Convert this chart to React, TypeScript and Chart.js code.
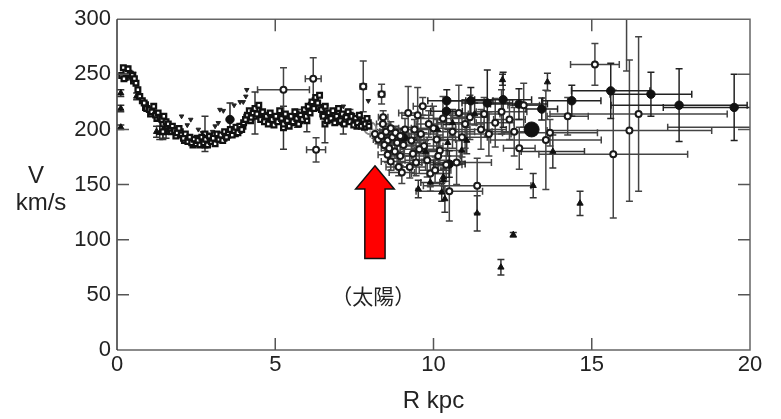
import { useEffect, useRef } from "react";
import { Chart, registerables } from "chart.js";
Chart.register(...registerables);

// ---- axis ticks ----
const xTickValues = [0, 5, 10, 15, 20];
const yTickValues = [0, 50, 100, 150, 200, 250, 300];

// ---- inner rotation curve (open squares) ----
const squaresR = [0.15,0.2,0.22,0.28,0.35,0.42,0.48,0.55,0.6,0.66,0.72,0.8,0.86,0.94,1.02,1.1,1.16,1.22,1.3,1.36,1.42,1.48,1.55,1.62,1.68,1.75,1.82,1.9,1.96,2.03,2.1,2.16,2.24,2.3,2.36,2.44,2.5,2.56,2.62,2.68,2.74,2.8,2.86,2.92,2.98,3.04,3.1,3.16,3.22,3.28,3.34,3.4,3.46,3.52,3.58,3.64,3.7,3.76,3.82,3.88,3.94,4.0,4.06,4.12,4.18,4.24,4.3,4.36,4.42,4.48,4.54,4.6,4.66,4.72,4.78,4.84,4.9,4.96,5.02,5.08,5.14,5.2,5.26,5.32,5.38,5.44,5.5,5.56,5.62,5.68,5.74,5.8,5.86,5.92,5.98,6.04,6.1,6.16,6.22,6.28,6.34,6.4,6.46,6.52,6.58,6.64,6.7,6.76,6.82,6.88,6.94,7.0,7.06,7.12,7.18,7.24,7.3,7.36,7.42,7.48,7.54,7.6,7.66,7.72,7.78,7.84,7.9,7.96];
const squaresV = [249,256,246,252,255,250,249,246,242,236,230,226,224,219,218,216,221,213,215,211,209,212,207,205,201,203,199,197,201,195,192,196,189,193,188,191,187,190,186,193,188,191,186,194,189,192,187,196,191,195,190,198,193,197,200,195,199,202,197,203,200,206,209,213,217,211,215,219,214,222,209,216,207,212,205,215,209,204,212,207,217,210,205,214,208,203,212,207,216,210,205,213,209,218,212,221,215,225,219,229,224,231,218,212,221,208,215,210,217,206,212,219,208,214,205,211,216,207,212,204,210,206,213,203,208,205,210,203];
// second, interleaved run of squares that thickens the band
const squares2R = [0.25,0.38,0.52,0.9,1.06,1.26,1.45,1.58,1.72,1.86,2.0,2.13,2.27,2.4,2.53,2.66,2.78,2.9,3.02,3.14,3.26,3.38,3.5,3.62,3.74,3.86,3.98,4.1,4.22,4.34,4.46,4.58,4.7,4.82,4.94,5.06,5.18,5.3,5.42,5.54,5.66,5.78,5.9,6.02,6.14,6.26,6.38,6.5,6.62,6.74,6.86,6.98,7.1,7.22,7.34,7.46,7.58,7.7,7.82,7.94];
const squares2V = [247,251,244,220,214,210,205,203,198,194,198,190,191,186,192,188,186,190,189,191,193,192,195,197,196,199,203,211,208,212,218,210,209,213,207,210,212,209,211,206,214,208,213,216,222,226,220,214,212,209,214,207,212,208,210,208,203,207,202,206];

// squares carrying vertical error bars
const sqErrR = [0.3,0.5,0.9,1.45,2.78,4.36,5.26,5.7,6.0,6.57,7.15];
const sqErrV = [252,249,222,198,196,215,201.5,210,208,205,206];
const sqErrDv = [4,3,3,7,16,19,19.5,8,10,17,10];

// ---- small inverted triangles ----
const invTriR = [2.04,2.22,2.33,2.57,2.7,3.02,3.1,3.2,3.25,3.36,3.7,3.89,3.99,4.07,4.1,7.15,7.94];
const invTriV = [212,204,209,200,197,198,203,206,218,217,222,225,225,230,236,221,226];

// ---- filled triangles ----
const triR = [0.12,0.12,0.12,0.3,0.45,0.62,1.25,1.35,1.45,1.55,9.52,10.26,10.31,10.36,10.31,10.13,10.45,10.89,11.05,11.38,12.13,12.52,13.15,14.63,12.18,13.6,13.77,9.75,10.6,9.9,11.3];
const triV = [233,219,202,254,248,230,198,197,199,197,146,143,157,137,154,200,188,181,190,124,75,104.5,149,133,245,243,180,180,206,152,214];
const triDr = [0,0,0,0,0,0,0,0,0,0,0,0,0,0,0,0,0,0,0,0,0,0,0,0,0,0,1.0,0.4,0.5,0.3,0.4];
const triDv = [3,3,2,3,3,3,5,6,7,5,8,8,8,12,10,10,12,10,12,16,7,2,11,11,5,8,15,10,12,8,10];

// ---- open circles ----
const openR = [5.26,6.2,6.29,7.78,7.36,8.36,8.41,8.4,8.15,8.25,8.35,8.5,8.55,8.65,8.7,8.45,8.6,8.78,8.85,8.8,8.95,8.65,8.9,9.0,8.55,8.95,9.05,9.1,9.2,9.3,9.35,9.45,9.5,9.66,9.6,9.7,9.8,9.9,10.0,10.1,10.2,10.5,10.3,10.4,10.6,10.73,10.8,10.9,11.0,11.15,11.38,11.5,11.6,11.75,11.95,12.15,12.4,12.71,12.55,12.85,13.68,13.55,14.24,15.1,16.48,16.19,15.68,16.1,21.0,9.25,9.55,9.85,10.15,10.05,9.4];
const openV = [236,246,181.5,239,213,232,211,205,196,191,194,198,190,201,193,186,183,180,188,197,194,171,166,161,177,176,186,200,215,190,178,170,213,221,196,185,172,160,201,191,181,144,210,168,198,170,215,193,205,211,149,200,214,196,206,216,209,183,198,222,197,190.5,212,259,214,199,177.6,330,202,166,182,205,176,163,200];
const openDr = [0.82,0.25,0.3,0.1,0.1,0.1,0.15,0.2,0.15,0.15,0.2,0.2,0.2,0.25,0.25,0.2,0.25,0.3,0.3,0.3,0.3,0.3,0.4,0.4,0.3,0.35,0.4,0.4,0.3,0.5,0.5,0.6,0.5,0.3,0.5,0.6,0.7,0.6,0.7,0.6,0.8,1.05,0.8,0.5,0.7,1.1,0.5,0.8,0.6,0.6,1.7,0.8,0.5,0.7,0.6,0.8,0.5,0.5,0.7,0.5,1.5,1.75,0.65,0.77,2.8,2.6,2.35,0,3.6,0.5,0.6,0.4,0.7,0.5,0.6];
const openDv = [20,19,11,23,5,9,6,5,4,4,5,5,5,6,6,5,6,6,8,6,7,8,8,10,7,9,10,10,24,12,10,12,25,8,15,12,15,12,20,18,14,27,20,15,15,20,25,18,22,20,25,18,15,20,22,20,18,19,22,20,12,45,17,19,70,64,58,77,0,10,14,12,16,12,9];

// ---- filled circles ----
const fillR = [3.57,10.42,11.18,10.41,12.7,13.42,14.37,15.6,16.87,17.76,19.5,10.5,9.05,11.7,12.2];
const fillV = [209,226,226,216.5,223,218.5,226,235,232,222,220,168.6,192.5,224,227];
const fillDr = [0,0.6,0.7,0.5,0.9,0.5,0.92,1.24,1.29,2.15,2.24,0.5,0.4,0.8,0.9];
const fillDv = [15,10,12,12,14,10,14,25,20,33,30,12,8,30,25];

// ---- big filled point and the Sun ----
const bigR = [13.1];
const bigV = [200];
const sunR = [8.0];
const sunV = [201];

// ---- annotation (arrow pointing at the Sun) ----
const arrowR = 8.15;
const arrowTipV = 167;
const arrowNeckV = 146;
const arrowTailV = 83;
const arrowHeadHalf = 0.61;
const arrowShaftHalf = 0.32;
const sunLabel = "（太陽）";
const sunLabelR = 8.1;
const sunLabelV = 49;

const pts = (r: number[], v: number[], dr?: number[], dv?: number[]) =>
  r.map((x, i) => ({ x, y: v[i], dx: dr ? dr[i] : 0, dy: dv ? dv[i] : 0 }));

const errorBarsPlugin = {
  id: "errorBars",
  beforeDatasetsDraw(chart: any) {
    const { ctx, chartArea: a, scales } = chart;
    const xs = scales.x, ys = scales.y;
    ctx.save();
    ctx.beginPath();
    ctx.rect(a.left, a.top, a.right - a.left, a.bottom - a.top);
    ctx.clip();
    chart.data.datasets.forEach((ds: any) => {
      if (!ds.errColor) return;
      ctx.strokeStyle = ds.errColor;
      ctx.lineWidth = 1.5;
      const cap = 3.5;
      ds.data.forEach((p: any) => {
        const px = xs.getPixelForValue(p.x);
        const py = ys.getPixelForValue(p.y);
        ctx.beginPath();
        if (p.dy) {
          const y1 = ys.getPixelForValue(p.y + p.dy);
          const y2 = ys.getPixelForValue(p.y - p.dy);
          ctx.moveTo(px, y1); ctx.lineTo(px, y2);
          ctx.moveTo(px - cap, y1); ctx.lineTo(px + cap, y1);
          ctx.moveTo(px - cap, y2); ctx.lineTo(px + cap, y2);
        }
        if (p.dx) {
          const x1 = xs.getPixelForValue(p.x - p.dx);
          const x2 = xs.getPixelForValue(p.x + p.dx);
          ctx.moveTo(x1, py); ctx.lineTo(x2, py);
          ctx.moveTo(x1, py - cap); ctx.lineTo(x1, py + cap);
          ctx.moveTo(x2, py - cap); ctx.lineTo(x2, py + cap);
        }
        ctx.stroke();
      });
    });
    ctx.restore();
  },
};

const framePlugin = {
  id: "frame",
  afterDatasetsDraw(chart: any) {
    const { ctx, scales } = chart;
    const xs = scales.x, ys = scales.y;
    const tipX = xs.getPixelForValue(arrowR);
    const tipY = ys.getPixelForValue(arrowTipV);
    const neckY = ys.getPixelForValue(arrowNeckV);
    const tailY = ys.getPixelForValue(arrowTailV);
    const hl = xs.getPixelForValue(arrowR - arrowHeadHalf);
    const hr = xs.getPixelForValue(arrowR + arrowHeadHalf);
    const sl = xs.getPixelForValue(arrowR - arrowShaftHalf);
    const sr = xs.getPixelForValue(arrowR + arrowShaftHalf);
    ctx.save();
    ctx.beginPath();
    ctx.moveTo(tipX, tipY);
    ctx.lineTo(hr, neckY);
    ctx.lineTo(sr, neckY);
    ctx.lineTo(sr, tailY);
    ctx.lineTo(sl, tailY);
    ctx.lineTo(sl, neckY);
    ctx.lineTo(hl, neckY);
    ctx.closePath();
    ctx.fillStyle = "#ff0000";
    ctx.fill();
    ctx.strokeStyle = "#111";
    ctx.lineWidth = 1.5;
    ctx.stroke();
    ctx.fillStyle = "#222";
    ctx.font = '21px "Noto Sans CJK JP"';
    ctx.textAlign = "center";
    ctx.textBaseline = "middle";
    ctx.fillText(sunLabel, xs.getPixelForValue(sunLabelR), ys.getPixelForValue(sunLabelV));
    ctx.restore();
  },
  afterDraw(chart: any) {
    const { ctx, chartArea: a, scales } = chart;
    const xs = scales.x, ys = scales.y;
    const tl = 12;
    ctx.save();
    ctx.lineWidth = 1.5;
    ctx.strokeStyle = "#666";
    ctx.beginPath();
    ctx.moveTo(a.left, a.bottom); ctx.lineTo(a.right, a.bottom);
    ctx.lineTo(a.right, a.top); ctx.lineTo(a.left, a.top);
    ctx.stroke();
    ctx.strokeStyle = "#333";
    ctx.beginPath();
    ctx.moveTo(a.left, a.top); ctx.lineTo(a.left, a.bottom);
    ctx.stroke();
    ctx.strokeStyle = "#555";
    ctx.beginPath();
    xs.ticks.forEach((t: any) => {
      const px = xs.getPixelForValue(t.value);
      if (px <= a.left + 1 || px >= a.right - 1) return;
      ctx.moveTo(px, a.bottom); ctx.lineTo(px, a.bottom - tl);
      ctx.moveTo(px, a.top); ctx.lineTo(px, a.top + tl);
    });
    ys.ticks.forEach((t: any) => {
      const py = ys.getPixelForValue(t.value);
      if (py <= a.top + 1 || py >= a.bottom - 1) return;
      ctx.moveTo(a.left, py); ctx.lineTo(a.left + tl, py);
      ctx.moveTo(a.right, py); ctx.lineTo(a.right - tl, py);
    });
    ctx.stroke();
    ctx.fillStyle = "#222";
    ctx.font = '24px "Liberation Sans"';
    ctx.textAlign = "center";
    ctx.textBaseline = "middle";
    ctx.fillText("V", 36, 176);
    ctx.fillText("km/s", 41, 203);
    ctx.restore();
  },
};

export default function App() {
  const ref = useRef<HTMLCanvasElement>(null);
  useEffect(() => {
    if (!ref.current) return;
    const tickFont = { family: '"Liberation Sans", Arial, sans-serif', size: 22 };
    const squareStyle = {
      pointStyle: "rect",
      pointRadius: 3.3,
      backgroundColor: "#fff",
      borderColor: "#111",
      borderWidth: 2.3,
    };
    const chart = new Chart(ref.current, {
      type: "scatter",
      data: {
        datasets: [
          { label: "squares", data: pts(squaresR, squaresV), ...squareStyle },
          { label: "squares2", data: pts(squares2R, squares2V), ...squareStyle },
          { label: "squaresErr", data: pts(sqErrR, sqErrV, undefined, sqErrDv), ...squareStyle, errColor: "#333" },
          {
            label: "invTri",
            data: pts(invTriR, invTriV),
            pointStyle: "triangle",
            rotation: 180,
            pointRadius: 2.6,
            backgroundColor: "#222",
            borderColor: "#222",
            borderWidth: 1,
          },
          {
            label: "tri",
            data: pts(triR, triV, triDr, triDv),
            pointStyle: "triangle",
            pointRadius: 3.6,
            backgroundColor: "#111",
            borderColor: "#111",
            borderWidth: 1,
            errColor: "#333",
          },
          {
            label: "open",
            data: pts(openR, openV, openDr, openDv),
            pointStyle: "circle",
            pointRadius: 3,
            backgroundColor: "#fff",
            borderColor: "#1a1a1a",
            borderWidth: 2,
            errColor: "#444",
          },
          {
            label: "filled",
            data: pts(fillR, fillV, fillDr, fillDv),
            pointStyle: "circle",
            pointRadius: 4.2,
            backgroundColor: "#111",
            borderColor: "#111",
            borderWidth: 1,
            errColor: "#222",
          },
          {
            label: "big",
            data: pts(bigR, bigV),
            pointStyle: "circle",
            pointRadius: 7.5,
            backgroundColor: "#111",
            borderColor: "#111",
            borderWidth: 1,
          },
          {
            label: "sun",
            data: pts(sunR, sunV),
            pointStyle: "circle",
            pointRadius: 6,
            backgroundColor: "rgba(255,255,255,0.6)",
            borderColor: "#888",
            borderWidth: 2,
          },
        ] as any,
      },
      options: {
        responsive: false,
        devicePixelRatio: 1,
        animation: false,
        events: [],
        layout: { padding: { left: 0, right: 31, top: 15, bottom: 0 } },
        plugins: { legend: { display: false }, tooltip: { enabled: false } },
        scales: {
          x: {
            type: "linear",
            min: 0,
            max: 20,
            afterBuildTicks: (s: any) => { s.ticks = xTickValues.map((value) => ({ value })); },
            ticks: { font: tickFont, color: "#222", padding: 2, maxRotation: 0 },
            grid: { display: false, drawTicks: false },
            border: { display: false },
            title: {
              display: true,
              text: "R kpc",
              color: "#222",
              font: { family: '"Liberation Sans", Arial, sans-serif', size: 24 },
              padding: { top: 0, bottom: 3 },
            },
            afterFit: (s: any) => { s.height = 69; },
          },
          y: {
            type: "linear",
            min: 0,
            max: 300,
            afterBuildTicks: (s: any) => { s.ticks = yTickValues.map((value) => ({ value })); },
            ticks: { font: tickFont, color: "#222", padding: 6 },
            grid: { display: false, drawTicks: false },
            border: { display: false },
            afterFit: (s: any) => { s.width = 117; },
          },
        },
      } as any,
      plugins: [errorBarsPlugin, framePlugin],
    });
    return () => chart.destroy();
  }, []);
  return (
    <div style={{ position: "fixed", left: 0, top: 0, width: 781, height: 419, background: "#fff" }}>
      <canvas ref={ref} width={781} height={419} />
    </div>
  );
}
